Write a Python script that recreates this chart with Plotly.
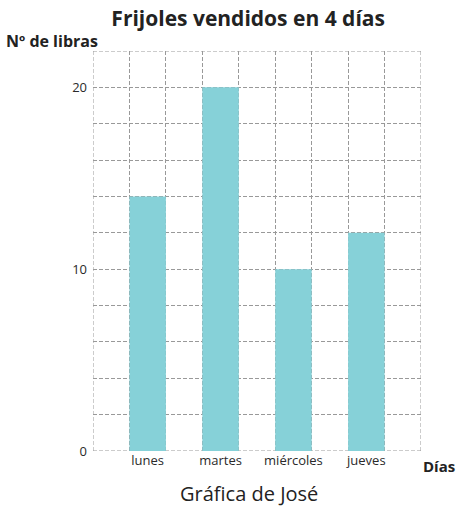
import plotly.graph_objects as go

# Pounds of beans sold per day
dias = ["lunes", "martes", "miércoles", "jueves"]
libras = [14, 20, 10, 12]
posiciones = [1.5, 3.5, 5.5, 7.5]

grid_color = "#999999"
grid_dash = "4px,2px"
bar_color = "#86d1d8"
font_family = "Open Sans, Lato, sans-serif"

fig = go.Figure(
    go.Bar(
        x=posiciones,
        y=libras,
        width=1.0,
        marker=dict(color=bar_color, line=dict(width=0)),
        hoverinfo="skip",
    )
)

fig.update_layout(
    width=457,
    height=506,
    margin=dict(l=93, r=36, t=51, b=55),
    paper_bgcolor="white",
    plot_bgcolor="white",
    showlegend=False,
    font=dict(family=font_family, color="#222"),
    title=dict(
        text="<b>Frijoles vendidos en 4 días</b>",
        x=0.543,
        xanchor="center",
        y=0.964,
        yanchor="middle",
        font=dict(size=21, color="#222"),
    ),
)

fig.update_xaxes(
    range=[0, 9],
    tickmode="array",
    tickvals=posiciones,
    ticktext=dias,
    ticks="",
    showgrid=False,
    zeroline=False,
    showline=False,
    tickfont=dict(size=13, color="#2a2a2a"),
    minor=dict(
        tick0=0,
        dtick=1,
        showgrid=True,
        gridcolor=grid_color,
        gridwidth=1,
        griddash=grid_dash,
        ticks="",
    ),
    fixedrange=True,
)

fig.update_yaxes(
    range=[0, 22],
    tickmode="array",
    tickvals=[0, 10, 20],
    ticks="",
    showgrid=True,
    gridcolor=grid_color,
    gridwidth=1,
    griddash=grid_dash,
    zeroline=False,
    showline=False,
    tickfont=dict(size=13, color="#2a2a2a"),
    ticklabelstandoff=5,
    minor=dict(
        tick0=0,
        dtick=2,
        showgrid=True,
        gridcolor=grid_color,
        gridwidth=1,
        griddash=grid_dash,
        ticks="",
    ),
    fixedrange=True,
)

# Outer border of the grid, drawn in the same dashed style
for x0, x1, y0, y1 in [(0, 9, 22, 22), (9, 9, 0, 22), (0, 9, 0, 0), (0, 0, 0, 22)]:
    fig.add_shape(type="line", xref="x", yref="y", x0=x0, x1=x1, y0=y0, y1=y1,
                  line=dict(color=grid_color, width=1, dash=grid_dash), layer="below")

fig.add_annotation(
    text="<b>Nº de libras</b>", xref="paper", yref="paper",
    x=-0.27, y=1.0, xanchor="left", yanchor="bottom", yshift=-3,
    showarrow=False, font=dict(size=16, color="#222"),
)
fig.add_annotation(
    text="<b>Días</b>", xref="paper", yref="paper",
    x=1.0, y=0, xanchor="right", yanchor="top", xshift=36, yshift=-3,
    showarrow=False, font=dict(size=15, color="#222"),
)
fig.add_annotation(
    text="Gráfica de José", xref="paper", yref="paper",
    x=0.475, y=0, xanchor="center", yanchor="top", yshift=-27,
    showarrow=False, font=dict(size=20, color="#222"),
)

fig.write_html("out.html")
